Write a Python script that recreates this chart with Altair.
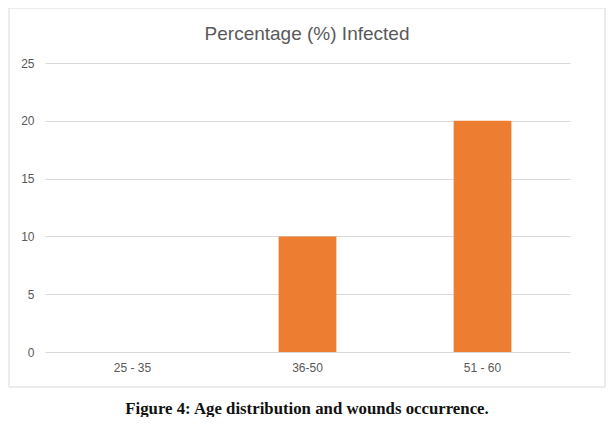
import altair as alt
import pandas as pd

categories = ["25 - 35", "36-50", "51 - 60"]
values = [0, 10, 20]
title_text = "Percentage (%) Infected"
caption_text = "Figure 4: Age distribution and wounds occurrence."

df = pd.DataFrame({"age": categories, "pct": values})
one = pd.DataFrame({"k": [0]})

W, H = 525, 289
FONT = "Liberation Sans, Arial"
GRAY = "#595959"
BORDER = "#d9d9d9"

bars = alt.Chart(df).mark_bar(color="#ED7D31").encode(
    x=alt.X("age:N", sort=categories, title=None,
            scale=alt.Scale(paddingInner=0.67, paddingOuter=0.335),
            axis=alt.Axis(labelAngle=0, domain=False, ticks=False, grid=False, labelPadding=10,
                          labelFont=FONT, labelFontSize=12, labelColor=GRAY)),
    y=alt.Y("pct:Q", title=None,
            scale=alt.Scale(domain=[0, 25]),
            axis=alt.Axis(values=[0, 5, 10, 15, 20, 25], domain=False, ticks=False,
                          labelPadding=11, labelFont=FONT, labelFontSize=12,
                          labelColor=GRAY, gridColor="#d9d9d9")),
)

L, R, T, B = -36, 560, -55, 324
rule = alt.Chart(one).mark_rule(color=BORDER, strokeWidth=1, clip=False)
top_edge = rule.encode(x=alt.value(L), x2=alt.value(R), y=alt.value(T))
bottom_edge = rule.encode(x=alt.value(L), x2=alt.value(R), y=alt.value(B))
left_edge = rule.encode(x=alt.value(L), y=alt.value(T), y2=alt.value(B))
right_edge = rule.encode(x=alt.value(R), y=alt.value(T), y2=alt.value(B))

title = alt.Chart(one).mark_text(
    font=FONT, fontSize=19, color=GRAY, align="center", baseline="alphabetic", clip=False
).encode(x=alt.value(262), y=alt.value(-23), text=alt.value(title_text))

caption = alt.Chart(one).mark_text(
    font="Liberation Serif", fontWeight="bold", fontSize=16.8, color="#111111",
    align="center", baseline="alphabetic", clip=False
).encode(x=alt.value(262), y=alt.value(351), text=alt.value(caption_text))

chart = alt.layer(top_edge, bottom_edge, left_edge, right_edge, bars, title, caption).properties(
    width=W, height=H,
    background="white",
    autosize=alt.AutoSizeParams(type="none"),
    padding={"left": 37, "top": 55, "right": 37, "bottom": 65},
).configure_view(stroke="transparent", strokeWidth=0)

chart.save("out.html", embed_options={"renderer": "svg", "actions": False})
